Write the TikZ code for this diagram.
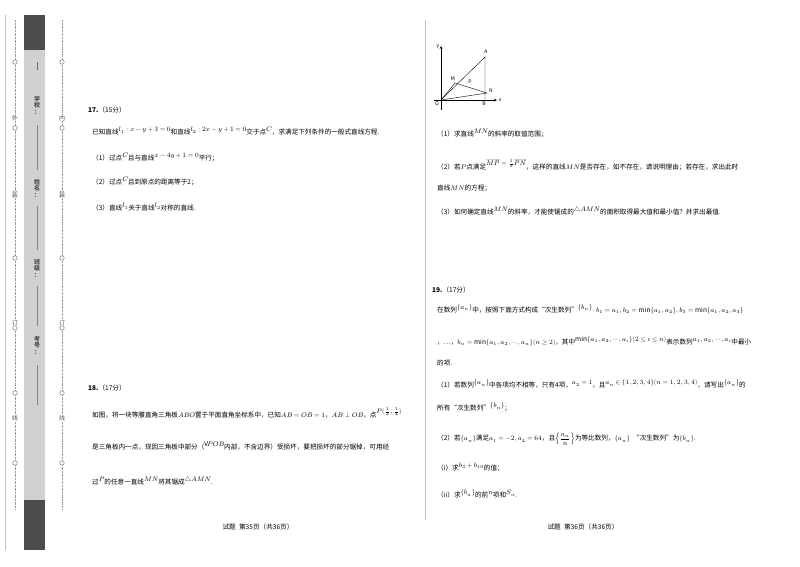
\documentclass[tikz,border=0pt]{standalone}
\usepackage{fontspec}
\setmainfont{Noto Sans CJK SC}
\usepackage{amsmath}
\usepackage{unicode-math}
\setmathfont{Latin Modern Math}
\newcommand{\up}[1]{\raisebox{3pt}{$#1$}}
\begin{document}
\begin{tikzpicture}[x=1pt,y=-1pt,
 t/.style={anchor=west,inner sep=0pt,font=\fontsize{6.6}{7.5}\selectfont},
 side/.style={inner sep=0pt,font=\fontsize{6}{7}\selectfont,text=black!70},
 dot/.style={draw=black!60,fill=white,circle,inner sep=1.6pt},
 fig/.style={font=\fontsize{5}{6}\selectfont\itshape,inner sep=0.5pt}]
\useasboundingbox (0,0) rectangle (800,566);
\fill[white] (0,0) rectangle (800,566);
% binding strip
\draw[black!25] (5,15) -- (5,550);
\fill[black!18] (24,15) rectangle (45,550);
\fill[black!70] (24,15) rectangle (45,50);
\fill[black!70] (24,500) rectangle (45,550);
\draw[black!40,densely dotted] (15,20) -- (15,510);
\draw[black!40,densely dotted] (62,20) -- (62,510);
\foreach \y in {62,128,193,258,328,393,463}{
 \node[dot] (l\y) at (15,\y) {}; \node[dot] (r\y) at (62,\y) {};}
\foreach \y/\c in {118/外,195/装,323/订,418/线}{\node[side,fill=white] (ls\y) at (15,\y) {\c};}
\foreach \y/\c in {118/内,195/装,323/订,418/线}{\node[side,fill=white] (rs\y) at (62,\y) {\c};}
\node[side,align=center,font=\fontsize{6}{6.5}\selectfont\bfseries] (sch) at (37,105) {学\\校\\：};
\node[side,align=center,font=\fontsize{6}{6.5}\selectfont\bfseries] (nam) at (37,188) {姓\\名\\：};
\node[side,align=center,font=\fontsize{6}{6.5}\selectfont\bfseries] (cls) at (37,268) {班\\级\\：};
\node[side,align=center,font=\fontsize{6}{6.5}\selectfont\bfseries] (num) at (37,345) {考\\号\\：};
\draw[black!60] (37,62) -- (37,70);
\draw[black!50] (37,125) -- (37,170);
\draw[black!50] (37,206) -- (37,250);
\draw[black!50] (37,286) -- (37,326);
\draw[black!50] (37,365) -- (37,405);
% middle divider
\draw[black!25] (425,20) -- (425,520);
% Problem 17
\node[t] (q17) at (88,110) {\textbf{17.}（15分）};
\node[t] (q17a) at (92,131) {已知直线\up{l_1:x-y+3=0}和直线\up{l_2:2x-y+1=0}交于点\up{C}，求满足下列条件的一般式直线方程.};
\node[t] (q17b) at (92,157) {（1）过点\up{C}且与直线\up{x-4y+1=0}平行；};
\node[t] (q17c) at (92,181) {（2）过点\up{C}且到原点的距离等于2；};
\node[t] (q17d) at (92,207) {（3）直线\up{l_1}关于直线\up{l_2}对称的直线.};
% Problem 18
\node[t] (q18) at (88,388) {\textbf{18.}（17分）};
\node[t] (q18a) at (92,413) {如图，将一块等腰直角三角板$ABO$置于平面直角坐标系中，已知$AB=OB=1$，$AB\perp OB$，点\raisebox{4pt}{$P(\tfrac12,\tfrac14)$}};
\node[t] (q18b) at (92,446) {是三角板内一点，现因三角板中部分（\up{\mathrm{V}\!POB}内部，不含边界）受损坏，要把损坏的部分锯掉，可用经};
\node[t] (q18c) at (92,481) {过\up{P}的任意一直线\up{MN}将其锯成\up{\triangle AMN}.};
% figure
\coordinate (O) at (441,100); \coordinate (A) at (485,57); \coordinate (B) at (485,100);
\coordinate (M) at (455,83); \coordinate (N) at (487,93);
\coordinate (xe) at (497,100); \coordinate (ye) at (441,46); \coordinate (xs) at (434,100); \coordinate (ys) at (441,110);
\draw[-stealth,line width=0.4pt] (xs) -- (xe);
\draw[-stealth,line width=0.4pt] (ys) -- (ye);
\draw[line width=0.4pt] (O) -- (A) -- (B);
\draw[line width=0.4pt] (O) -- (M);
\draw[line width=0.4pt] (M) -- (N);
\draw[line width=0.4pt] (O) -- (N);
\node[fig] (lA) at (486,52) {A}; \node[fig] (lB) at (484,104) {B};
\node[fig] (lO) at (437,104) {O}; \node[fig] (lM) at (453,79) {M};
\node[fig] (lP) at (470,82) {P}; \node[fig] (lN) at (491,91) {N};
\node[fig] (lx) at (500,100) {x}; \node[fig] (ly) at (438,47) {y};
\node[t] (r1) at (437,133) {（1）求直线\up{MN}的斜率的取值范围；};
\node[t] (r2) at (437,165) {（2）若$P$点满足\raisebox{4pt}{$\overrightarrow{MP}=\tfrac13\overrightarrow{PN}$}，这样的直线$MN$是否存在，如不存在，请说明理由；若存在，求出此时};
\node[t] (r2b) at (437,188) {直线$MN$的方程；};
\node[t] (r3) at (437,211) {（3）如何确定直线\up{MN}的斜率，才能使锯成的\up{\triangle AMN}的面积取得最大值和最小值？并求出最值.};
% Problem 19
\node[t] (q19) at (432,290) {\textbf{19.}（17分）};
\node[t] (q19a) at (437,309) {在数列\up{\{a_n\}}中，按照下面方式构成“次生数列”\up{\{b_n\}}$:b_1=a_1,b_2=\min\{a_1,a_2\},b_3=\min\{a_1,a_2,a_3\}$};
\node[t] (q19b) at (437,341) {，…，$b_n=\min\{a_1,a_2,\cdots,a_n\}(n\ge2)$，其中\up{\min\{a_1,a_2,\cdots,a_i\}(2\le i\le n)}表示数列\up{a_1,a_2,\cdots,a_i}中最小};
\node[t] (q19c) at (437,363) {的项.};
\node[t] (q19d) at (437,384) {（1）若数列\up{\{a_n\}}中各项均不相等，只有4项，\up{a_2=1}，且\up{a_n\in\{1,2,3,4\}(n=1,2,3,4)}，请写出\up{\{a_n\}}的};
\node[t] (q19e) at (437,407) {所有“次生数列”\up{\{b_n\}}；};
\node[t] (q19f) at (437,439) {（2）若$\{a_n\}$满足$a_1=-2,a_4=64$，且$\left\{\dfrac{a_n}{n}\right\}$为等比数列，$\{a_n\}$\enspace“次生数列”为$\{b_n\}$.};
\node[t] (q19g) at (437,467) {（i）求\up{b_3+b_{10}}的值；};
\node[t] (q19h) at (437,494) {（ii）求\up{\{b_n\}}的前\up{n}项和\up{S_n}.};
% footers
\node[t,anchor=center] (f1) at (258,527) {试题\enspace 第35页（共36页）};
\node[t,anchor=center] (f2) at (583,527) {试题\enspace 第36页（共36页）};
\end{tikzpicture}
\end{document}
